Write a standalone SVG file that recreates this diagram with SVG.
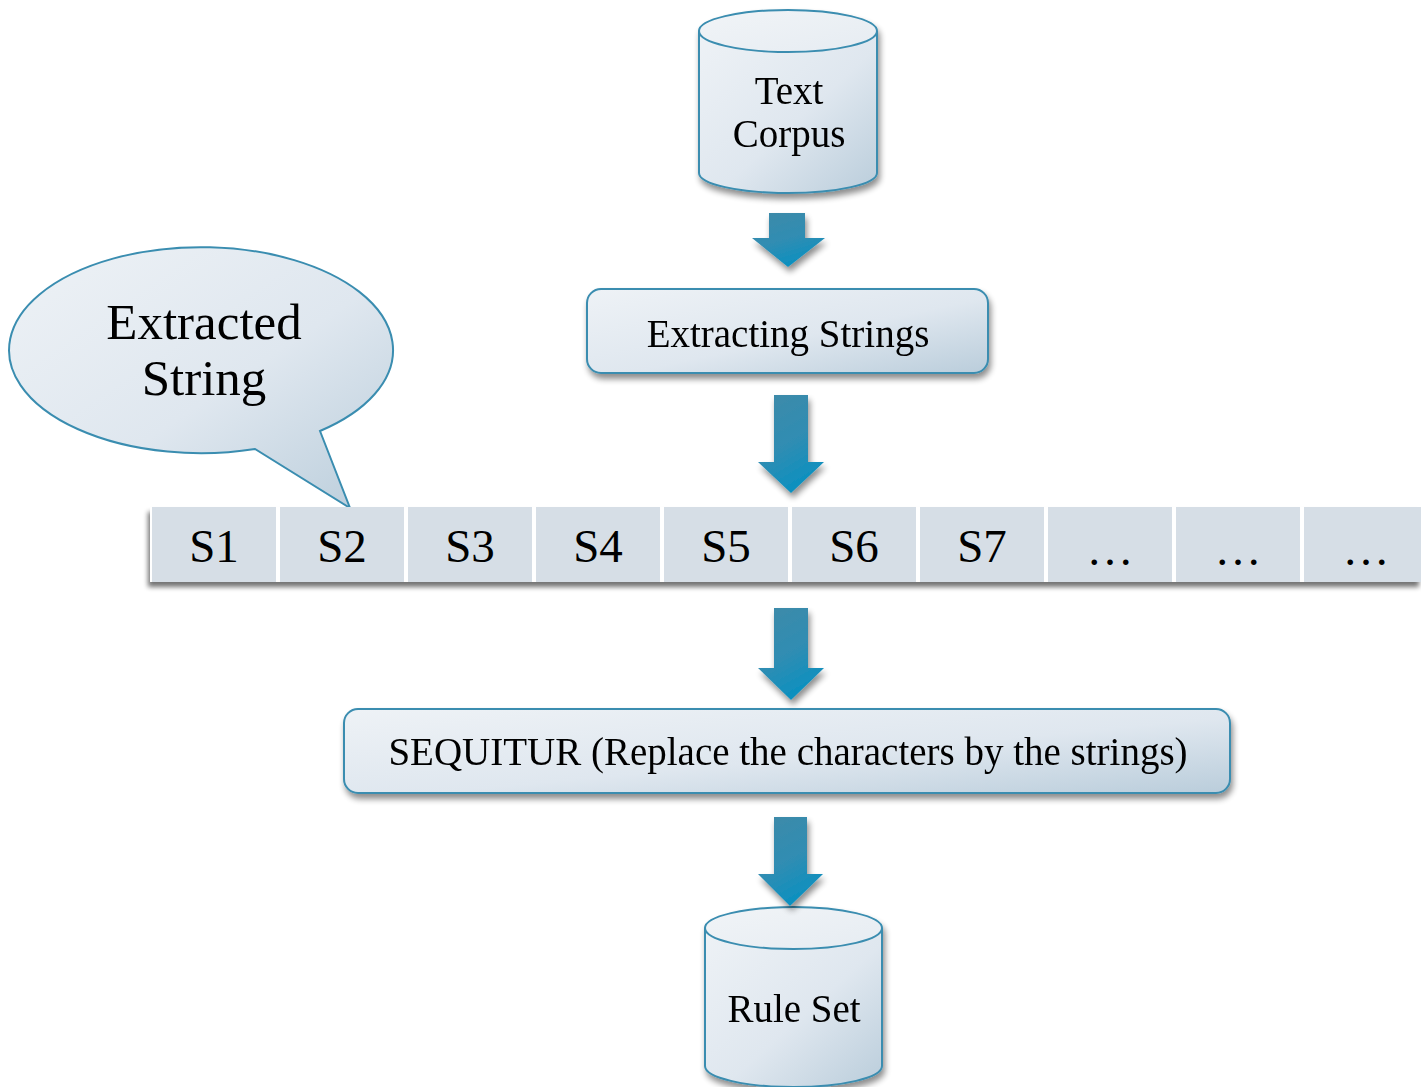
<svg xmlns="http://www.w3.org/2000/svg" width="1421" height="1087" viewBox="0 0 1421 1087">
  <defs>
    <linearGradient id="shapeFill" x1="0" y1="0" x2="1" y2="1">
      <stop offset="0" stop-color="#eef2f6"/>
      <stop offset="0.55" stop-color="#dfe7ef"/>
      <stop offset="1" stop-color="#bacddb"/>
    </linearGradient>
    <linearGradient id="topFill" x1="0" y1="0" x2="1" y2="1">
      <stop offset="0" stop-color="#f1f4f7"/>
      <stop offset="1" stop-color="#e6ecf2"/>
    </linearGradient>
    <linearGradient id="arrowFill" x1="0" y1="0" x2="0.4" y2="1">
      <stop offset="0" stop-color="#3f8aa8"/>
      <stop offset="0.6" stop-color="#2f8db3"/>
      <stop offset="1" stop-color="#0d90bf"/>
    </linearGradient>
    <filter id="shadow" x="-10%" y="-10%" width="125%" height="135%">
      <feGaussianBlur in="SourceAlpha" stdDeviation="3"/>
      <feOffset dx="2" dy="5" result="b"/>
      <feComponentTransfer><feFuncA type="linear" slope="0.45"/></feComponentTransfer>
      <feMerge><feMergeNode/><feMergeNode in="SourceGraphic"/></feMerge>
    </filter>
    <filter id="rowShadow" x="-5%" y="-10%" width="110%" height="140%">
      <feGaussianBlur in="SourceAlpha" stdDeviation="2.5"/>
      <feOffset dx="-2" dy="5" result="b"/>
      <feComponentTransfer><feFuncA type="linear" slope="0.55"/></feComponentTransfer>
      <feMerge><feMergeNode/><feMergeNode in="SourceGraphic"/></feMerge>
    </filter>
  </defs>
  <style>
    .lbl { font-family: "Liberation Serif", "Times New Roman", serif; fill: #000; text-anchor: middle; }
    .shape { fill: url(#shapeFill); stroke: #3a8db0; stroke-width: 2; }
    .cap { fill: url(#topFill); stroke: #3a8db0; stroke-width: 2; }
    .cell { fill: #d6dee6; }
    .arrow { fill: url(#arrowFill); filter: url(#shadow); }
  </style>

  <!-- Text Corpus database -->
  <g id="text-corpus" filter="url(#shadow)">
    <path class="shape" d="M699,31 L699,173 A89,20 0 0 0 877,173 L877,31"/>
    <ellipse class="cap" cx="788" cy="31" rx="89" ry="21"/>
    <text class="lbl" x="789" y="104" font-size="39">Text</text>
    <text class="lbl" x="789" y="147" font-size="39">Corpus</text>
  </g>

  <!-- Extracting Strings step -->
  <g id="extracting-strings" filter="url(#shadow)">
    <rect class="shape" x="587" y="289" width="401" height="84" rx="14"/>
    <text class="lbl" x="788" y="347" font-size="39">Extracting Strings</text>
  </g>

  <!-- Callout -->
  <g id="extracted-string-callout">
    <path class="shape" d="M320,431 L350,508 L255,449 A192,103 0 1 1 320,431 Z"/>
    <text class="lbl" x="204" y="339" font-size="51">Extracted</text>
    <text class="lbl" x="204" y="395" font-size="51">String</text>
  </g>

  <!-- String sequence row -->
  <g id="string-row">
    <rect x="150" y="507" width="1271" height="75" fill="#ffffff" filter="url(#rowShadow)"/>
    <rect class="cell" x="152" y="507" width="124" height="75"/>
    <rect class="cell" x="280" y="507" width="124" height="75"/>
    <rect class="cell" x="408" y="507" width="124" height="75"/>
    <rect class="cell" x="536" y="507" width="124" height="75"/>
    <rect class="cell" x="664" y="507" width="124" height="75"/>
    <rect class="cell" x="792" y="507" width="124" height="75"/>
    <rect class="cell" x="920" y="507" width="124" height="75"/>
    <rect class="cell" x="1048" y="507" width="124" height="75"/>
    <rect class="cell" x="1176" y="507" width="124" height="75"/>
    <rect class="cell" x="1304" y="507" width="117" height="75"/>
    <text class="lbl" x="214" y="562" font-size="47">S1</text>
    <text class="lbl" x="342" y="562" font-size="47">S2</text>
    <text class="lbl" x="470" y="562" font-size="47">S3</text>
    <text class="lbl" x="598" y="562" font-size="47">S4</text>
    <text class="lbl" x="726" y="562" font-size="47">S5</text>
    <text class="lbl" x="854" y="562" font-size="47">S6</text>
    <text class="lbl" x="982" y="562" font-size="47">S7</text>
    <text class="lbl" x="1110" y="565" font-size="47">…</text>
    <text class="lbl" x="1238" y="565" font-size="47">…</text>
    <text class="lbl" x="1366" y="565" font-size="47">…</text>
  </g>

  <!-- SEQUITUR step -->
  <g id="sequitur" filter="url(#shadow)">
    <rect class="shape" x="344" y="709" width="886" height="84" rx="14"/>
    <text class="lbl" x="788" y="765" font-size="39">SEQUITUR (Replace the characters by the strings)</text>
  </g>

  <!-- Rule Set database -->
  <g id="rule-set" filter="url(#shadow)">
    <path class="shape" d="M705,928 L705,1066 A88.5,21 0 0 0 882,1066 L882,928"/>
    <ellipse class="cap" cx="793.5" cy="928" rx="88.5" ry="21"/>
    <text class="lbl" x="794" y="1022" font-size="39">Rule Set</text>
  </g>

  <!-- Flow arrows -->
  <g id="connectors">
    <path class="arrow" d="M769,213 L805,213 L805,238 L825,238 L788,267 L752,238 L769,238 Z"/>
    <path class="arrow" d="M774,395 L808,395 L808,462 L824,462 L791,493 L758,462 L774,462 Z"/>
    <path class="arrow" d="M774,608 L808,608 L808,668 L824,668 L791,700 L758,668 L774,668 Z"/>
    <path class="arrow" d="M774,817 L807,817 L807,874 L823,874 L790,906 L758,874 L774,874 Z"/>
  </g>
</svg>
